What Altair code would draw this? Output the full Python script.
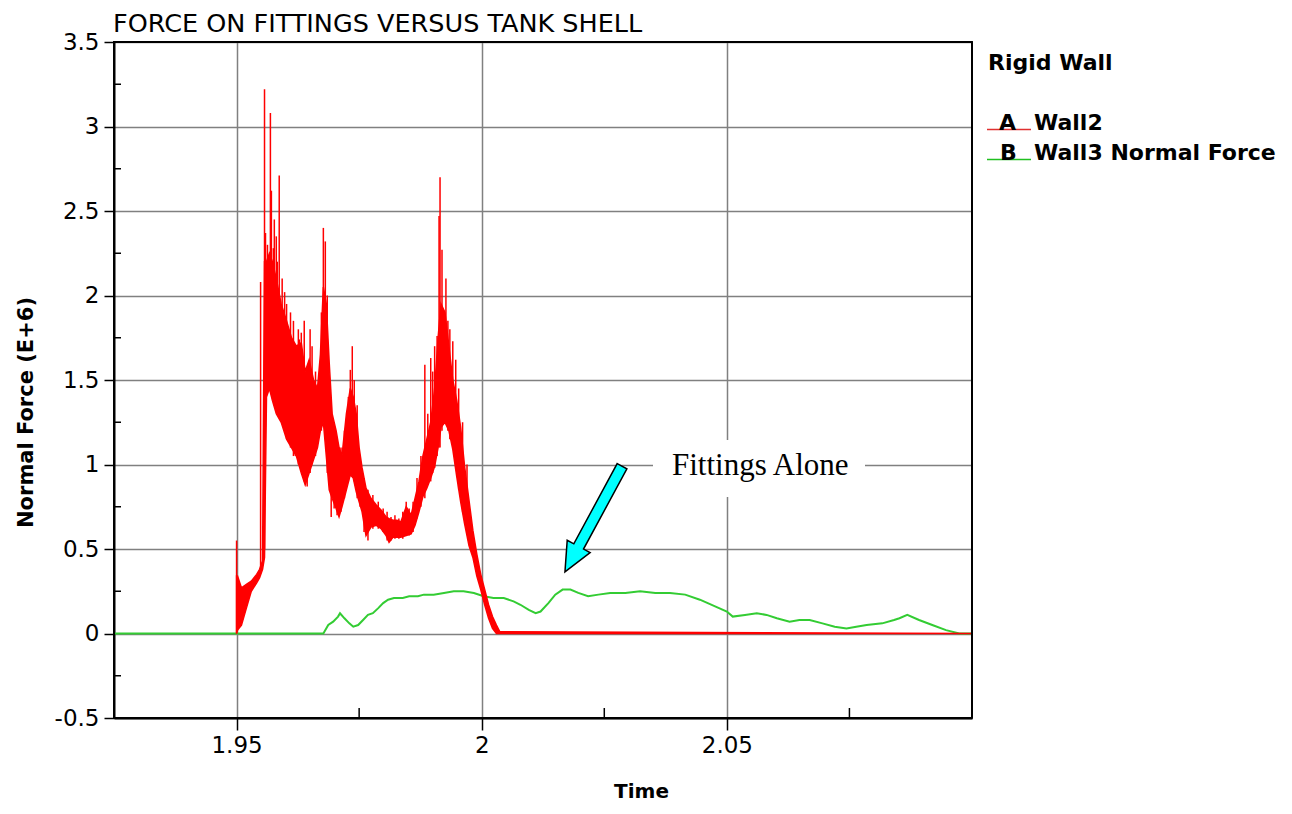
import altair as alt
import pandas as pd

# ---------------- data ----------------
# Red series "A Wall2": dense oscillation drawn as lower/upper envelope
red_t = [1.9500, 1.9502, 1.9510, 1.9520, 1.9530, 1.9541, 1.9547, 1.9553, 1.9557, 1.9561,
         1.9567, 1.9573, 1.9581, 1.9591, 1.9602, 1.9612, 1.9622, 1.9632, 1.9640, 1.9648,
         1.9657, 1.9665, 1.9671, 1.9677, 1.9683, 1.9689, 1.9695, 1.9703, 1.9709, 1.9715,
         1.9724, 1.9732, 1.9738, 1.9744, 1.9750, 1.9756, 1.9764, 1.9774, 1.9785, 1.9795,
         1.9805, 1.9811, 1.9819, 1.9827, 1.9835, 1.9846, 1.9856, 1.9864, 1.9872, 1.9880,
         1.9888, 1.9896, 1.9904, 1.9911, 1.9917, 1.9925, 1.9933, 1.9941, 1.9949, 1.9957,
         1.9965, 1.9974, 1.9982, 1.9990, 1.9998, 2.0006, 2.0014, 2.0022, 2.0030, 2.0037,
         2.1000]
red_lo = [0.00, 0.02, 0.05, 0.15, 0.25, 0.30, 0.33, 0.38, 0.45, 1.40,
          1.45, 1.38, 1.30, 1.25, 1.15, 1.10, 1.05, 0.95, 0.88, 0.95,
          1.03, 1.10, 1.20, 1.25, 1.05, 0.85, 0.80, 0.74, 0.69, 0.75,
          0.85, 0.94, 0.92, 0.84, 0.78, 0.72, 0.58, 0.63, 0.64, 0.62,
          0.58, 0.54, 0.57, 0.57, 0.57, 0.58, 0.59, 0.64, 0.72, 0.81,
          0.86, 0.92, 0.99, 1.10, 1.22, 1.25, 1.20, 1.09, 0.93, 0.78,
          0.65, 0.52, 0.45, 0.34, 0.26, 0.17, 0.09, 0.03, 0.00, 0.00,
          0.00]
red_hi = [0.34, 0.34, 0.27, 0.29, 0.31, 0.35, 0.38, 0.43, 2.20, 2.20,
          2.25, 2.20, 2.10, 1.95, 1.85, 1.75, 1.70, 1.72, 1.55, 1.62,
          1.50, 1.45, 1.65, 2.05, 1.95, 1.60, 1.30, 1.20, 1.10, 1.05,
          1.30, 1.45, 1.40, 1.30, 1.10, 0.98, 0.86, 0.80, 0.76, 0.73,
          0.69, 0.68, 0.67, 0.67, 0.66, 0.75, 0.70, 0.80, 0.90, 1.05,
          1.15, 1.25, 1.45, 1.75, 1.95, 1.90, 1.70, 1.50, 1.38, 1.22,
          0.99, 0.79, 0.61, 0.47, 0.35, 0.26, 0.17, 0.10, 0.05, 0.01,
          0.00]

# Red series: individual spikes (time, bottom, top)
spike_t = [1.9500, 1.9549, 1.9557, 1.9559, 1.9563, 1.9565, 1.9569, 1.9571, 1.9575, 1.9577,
           1.9581, 1.9583, 1.9587, 1.9593, 1.9598, 1.9602, 1.9610, 1.9616, 1.9620, 1.9626,
           1.9628, 1.9632, 1.9638, 1.9644, 1.9650, 1.9654, 1.9661, 1.9673, 1.9677, 1.9681,
           1.9685, 1.9687, 1.9693, 1.9699, 1.9705, 1.9713, 1.9720, 1.9728, 1.9732, 1.9736,
           1.9740, 1.9746, 1.9752, 1.9760, 1.9768, 1.9778, 1.9789, 1.9799, 1.9807, 1.9815,
           1.9823, 1.9831, 1.9839, 1.9846, 1.9852, 1.9860, 1.9868, 1.9876, 1.9884, 1.9890,
           1.9896, 1.9900, 1.9904, 1.9909, 1.9913, 1.9915, 1.9919, 1.9923, 1.9927, 1.9931,
           1.9935, 1.9941, 1.9947, 1.9953, 1.9961, 1.9970]
spike_lo = [0.00, 0.38, 0.50, 1.40, 1.50, 1.50, 1.45, 1.45, 1.40, 1.40,
            1.35, 1.35, 1.30, 1.25, 1.20, 1.15, 1.10, 1.05, 1.05, 1.00,
            1.00, 1.00, 0.90, 0.87, 0.95, 1.00, 1.05, 1.20, 1.25, 1.20,
            0.95, 1.00, 0.69, 0.74, 0.70, 0.72, 0.80, 0.90, 0.95, 0.95,
            0.90, 0.80, 0.75, 0.60, 0.55, 0.62, 0.62, 0.60, 0.55, 0.55,
            0.56, 0.56, 0.56, 0.58, 0.58, 0.60, 0.68, 0.75, 0.80, 0.88,
            0.90, 0.95, 0.98, 1.05, 1.10, 1.10, 1.20, 1.25, 1.25, 1.20,
            1.15, 1.10, 1.00, 0.85, 0.72, 0.60]
spike_hi = [0.55, 2.08, 3.22, 2.37, 2.30, 2.15, 3.08, 2.62, 2.28, 2.45,
            2.35, 2.20, 2.71, 2.10, 2.02, 1.95, 1.90, 1.85, 1.60, 1.80,
            1.74, 1.78, 1.85, 1.50, 1.80, 1.70, 1.55, 1.90, 2.40, 2.32,
            2.00, 1.72, 1.35, 1.25, 1.15, 1.10, 1.20, 1.40, 1.56, 1.70,
            1.50, 1.35, 1.05, 0.92, 0.85, 0.82, 0.78, 0.74, 0.72, 0.69,
            0.70, 0.68, 0.72, 0.78, 0.74, 0.78, 0.92, 1.05, 1.59, 1.30,
            1.63, 1.55, 1.70, 1.76, 2.47, 2.70, 2.27, 1.91, 2.10, 1.85,
            1.80, 1.73, 1.62, 1.45, 1.25, 1.00]

# Green series "B Wall3 Normal Force"
green_t = [1.9250, 1.9677, 1.9687, 1.9697, 1.9707, 1.9711, 1.9720, 1.9730, 1.9738, 1.9748,
           1.9758, 1.9768, 1.9778, 1.9789, 1.9799, 1.9809, 1.9821, 1.9839, 1.9852, 1.9870,
           1.9882, 1.9902, 1.9923, 1.9943, 1.9963, 1.9984, 2.0004, 2.0024, 2.0045, 2.0065,
           2.0079, 2.0096, 2.0110, 2.0120, 2.0136, 2.0150, 2.0165, 2.0181, 2.0197, 2.0217,
           2.0238, 2.0262, 2.0293, 2.0323, 2.0354, 2.0384, 2.0415, 2.0445, 2.0476, 2.0500,
           2.0512, 2.0537, 2.0561, 2.0581, 2.0602, 2.0628, 2.0648, 2.0669, 2.0695, 2.0720,
           2.0744, 2.0764, 2.0785, 2.0817, 2.0841, 2.0852, 2.0868, 2.0892, 2.0919, 2.0947,
           2.0974, 2.1000]
green_v = [0.00, 0.00, 0.05, 0.07, 0.10, 0.12, 0.09, 0.06, 0.04, 0.05,
           0.08, 0.11, 0.12, 0.15, 0.18, 0.20, 0.21, 0.21, 0.22, 0.22,
           0.23, 0.23, 0.24, 0.25, 0.25, 0.24, 0.22, 0.21, 0.21, 0.19,
           0.17, 0.14, 0.12, 0.13, 0.18, 0.23, 0.26, 0.26, 0.24, 0.22,
           0.23, 0.24, 0.24, 0.25, 0.24, 0.24, 0.23, 0.20, 0.16, 0.13,
           0.10, 0.11, 0.12, 0.11, 0.09, 0.07, 0.08, 0.08, 0.06, 0.04,
           0.03, 0.04, 0.05, 0.06, 0.08, 0.09, 0.11, 0.08, 0.05, 0.02,
           0.00, 0.00]

x_domain = [1.925, 2.1]
y_domain = [-0.5, 3.5]
x_ticks = [1.95, 2.0, 2.05]
x_minor = [1.975, 2.025, 2.075]
y_ticks = [-0.5, 0, 0.5, 1, 1.5, 2, 2.5, 3, 3.5]
y_minor = [-0.25, 0.25, 0.75, 1.25, 1.75, 2.25, 2.75, 3.25]

chart_title = "FORCE ON FITTINGS VERSUS TANK SHELL"
x_title = "Time"
y_title = "Normal Force (E+6)"
legend_title = "Rigid Wall"
legend_keys = ["A", "B"]
legend_names = ["Wall2", "Wall3 Normal Force"]
note_text = "Fittings Alone"

RED = "#ff0000"
GREEN = "#33cc33"

# ---------------- layout ----------------
W, H = 858, 676
FONT = "DejaVu Sans"

xs = alt.Scale(domain=x_domain, nice=False, zero=False)
ys = alt.Scale(domain=y_domain, nice=False, zero=False)

x_axis = alt.Axis(values=x_ticks, labelExpr="datum.value + ''", grid=True,
                  gridColor="#808080", gridWidth=1.5, gridOpacity=1,
                  tickSize=12, tickColor="black", tickWidth=1.5,
                  domainColor="black", domainWidth=2,
                  labelFont=FONT, labelFontSize=23, labelColor="black",
                  labelPadding=4, labelFlush=False, labelOverlap=False,
                  title=x_title, titleFont=FONT, titleFontSize=20,
                  titleFontWeight="bold", titleColor="black",
                  titleX=527, titleY=79, titleAlign="center",
                  titleBaseline="alphabetic")
y_axis = alt.Axis(values=y_ticks, labelExpr="datum.value + ''", grid=True,
                  gridColor="#808080", gridWidth=1.5, gridOpacity=1,
                  tickSize=10, tickColor="black", tickWidth=1.5,
                  domainColor="black", domainWidth=2,
                  labelFont=FONT, labelFontSize=23, labelColor="black",
                  labelPadding=5, labelFlush=False, labelOverlap=False,
                  title=y_title, titleFont=FONT, titleFontSize=21,
                  titleFontWeight="bold", titleColor="black",
                  titleAngle=270, titleX=-82, titleY=370,
                  titleAlign="center", titleBaseline="alphabetic")

X = alt.X("t:Q", scale=xs, axis=x_axis)


def Y(field):
    return alt.Y(field, type="quantitative", scale=ys, axis=y_axis)


green_df = pd.DataFrame({"t": green_t, "v": green_v})
red_df = pd.DataFrame({"t": red_t, "lo": red_lo, "hi": red_hi})
spike_df = pd.DataFrame({"t": spike_t, "lo": spike_lo, "hi": spike_hi})

green_line = alt.Chart(green_df).mark_line(color=GREEN, strokeWidth=2).encode(
    x=X, y=Y("v"))

red_band = alt.Chart(red_df).mark_area(color=RED, stroke=RED, strokeWidth=1.5, opacity=1).encode(
    x=X, y=Y("lo"), y2="hi:Q")

red_spikes = alt.Chart(spike_df).mark_rule(color=RED, strokeWidth=1.5).encode(
    x=X, y=Y("lo"), y2="hi:Q")

x_minor_ticks = alt.Chart(pd.DataFrame({"t": x_minor})).mark_rule(color="black", strokeWidth=1.5).encode(
    x=X, y=alt.value(H), y2=alt.value(H - 10))
y_minor_ticks = alt.Chart(pd.DataFrame({"v": y_minor})).mark_rule(color="black", strokeWidth=1.5).encode(
    y=Y("v"), x=alt.value(0), x2=alt.value(7))

one = pd.DataFrame({"a": [0]})


def txt(s, x, y, size, weight="normal", font=FONT, align="left", baseline="alphabetic"):
    return alt.Chart(pd.DataFrame({"s": [s]})).mark_text(
        align=align, baseline=baseline, font=font, fontSize=size,
        fontWeight=weight, color="black").encode(
        x=alt.value(x), y=alt.value(y), text="s:N")


def hline(x1, x2, y, color, width):
    return alt.Chart(one).mark_rule(color=color, strokeWidth=width).encode(
        x=alt.value(x1), x2=alt.value(x2), y=alt.value(y))


def vline(x, y1, y2, color, width):
    return alt.Chart(one).mark_rule(color=color, strokeWidth=width).encode(
        x=alt.value(x), y=alt.value(y1), y2=alt.value(y2))


# white box behind the note, then note and arrow
note_box = alt.Chart(one).mark_rect(color="white", opacity=1).encode(
    x=alt.value(539), x2=alt.value(751), y=alt.value(398), y2=alt.value(455))
note = txt(note_text, 558, 433, 31, font="Liberation Serif")

ARROW = "M -0.092 -1 L 0.092 -1 L 0.092 0.52 L 0.217 0.52 L 0 1 L -0.217 0.52 L -0.092 0.52 Z"
arrow = alt.Chart(one).mark_point(
    shape=ARROW, filled=True, fill="#00ffff", stroke="black", strokeWidth=1.5,
    opacity=1, size=14400, angle=28.4).encode(x=alt.value(479.5), y=alt.value(477))

title = txt(chart_title, -1, -10, 25.5)

legend = [
    txt(legend_title, 874, 28, 22, weight="bold"),
    hline(873, 917, 87.5, "#e03030", 1.5),
    txt(legend_keys[0], 885, 88, 22, weight="bold"),
    txt(legend_names[0], 920, 88, 22, weight="bold"),
    hline(873, 917, 117.5, "#20c020", 1.5),
    txt(legend_keys[1], 886, 118, 22, weight="bold"),
    txt(legend_names[1], 920, 118, 22, weight="bold"),
]

frame = [
    hline(0, W, 0, "black", 2),
    vline(W, 0, H, "black", 2),
    hline(0, W, H, "black", 2),
    vline(0, 0, H, "black", 2),
]

chart = alt.layer(
    green_line, red_band, red_spikes, x_minor_ticks, y_minor_ticks,
    note_box, note, arrow, title, *legend, *frame
).properties(
    width=W, height=H,
    autosize=alt.AutoSizeParams(type="none"),
    padding={"left": 106, "top": 34, "right": 310, "bottom": 86},
    background="white",
).configure_view(stroke="black", strokeWidth=2)

chart.save("out.html", embed_options={"renderer": "svg", "actions": False})
